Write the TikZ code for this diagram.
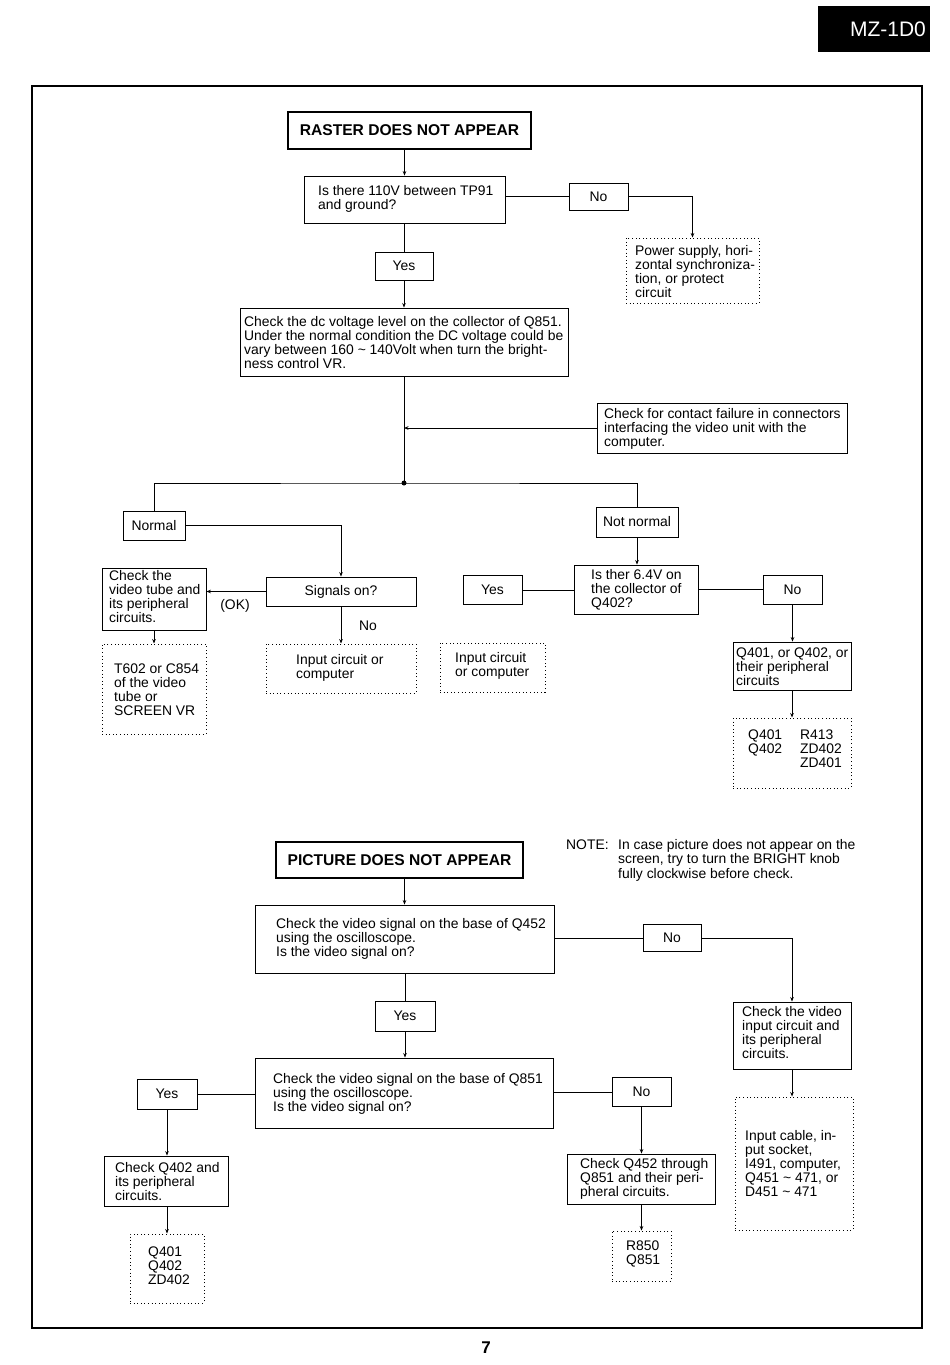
\documentclass[tikz,border=0pt]{standalone}
\usepackage{fontspec}
\setmainfont{Liberation Sans}
\usetikzlibrary{arrows.meta}
\newcommand\ft{\fontsize{13.9}{14}\selectfont}
\newcommand\tld{\textasciitilde}
\begin{document}
\begin{tikzpicture}[x=1pt,y=-1pt,
  box/.style={draw,line width=0.9pt,inner sep=0pt},
  dbox/.style={draw,line width=1pt,dash pattern=on 1pt off 2.6pt,inner sep=0pt},
  tbox/.style={draw,line width=2.4pt,inner sep=0pt,font=\fontsize{15.6}{18}\selectfont\bfseries},
  lbl/.style={box,font=\ft},
  txt/.style={anchor=west,align=left,inner sep=0pt,font=\ft},
  txtb/.style={anchor=west,inner sep=0pt,font=\ft},
  ln/.style={line width=1pt},
  arr/.style={ln,-{Stealth[length=4.5pt,width=3.6pt]}},
]
\useasboundingbox (0,0) rectangle (950,1365);
% header and frame
\node[fill=black,minimum width=112pt,minimum height=46pt,inner sep=0pt] (hdr) at (874,29) {};
\node[text=white,font=\fontsize{21}{23}\selectfont,inner sep=0pt] (hdrt) at (888,29) {MZ-1D0};
\node[draw,line width=1.2pt,minimum width=890pt,minimum height=1242pt,inner sep=0pt] (frame) at (477,707) {};
\node[font=\fontsize{17}{20}\selectfont\bfseries,inner sep=0pt] (pg) at (486,1348) {7};

% ---- chart 1 ----
\node[tbox,minimum width=243pt,minimum height=37pt] (t1) at (409.5,130.5) {RASTER DOES NOT APPEAR};
\node[box,minimum width=201pt,minimum height=47pt] (q1) at (404.5,199.5) {};
\node[txt] (q1t) at (318,199) {Is there 110V between TP91\\and ground?};
\node[lbl,minimum width=59pt,minimum height=27pt] (no1) at (598.5,196.5) {No};
\node[dbox,minimum width=133pt,minimum height=65pt] (ps) at (692.5,270.5) {};
\node[txt] (pst) at (635,272) {Power supply, hori-\\zontal synchroniza-\\tion, or protect\\circuit};
\node[lbl,minimum width=58pt,minimum height=28pt] (yes1) at (404,266) {Yes};
\node[box,minimum width=328pt,minimum height=68pt] (chk) at (404,342) {};
\node[txt] (chkt) at (244,343) {Check the dc voltage level on the collector of Q851.\\Under the normal condition the DC voltage could be\\vary between 160 \tld\ 140Volt when turn the bright-\\ness control VR.};
\node[box,minimum width=250pt,minimum height=50pt] (con) at (722,428) {};
\node[txt] (cont) at (604,429) {Check for contact failure in connectors\\interfacing the video unit with the\\computer.};
\coordinate (j) at (404,483);
\node[lbl,minimum width=62pt,minimum height=29pt] (nor) at (154,525.5) {Normal};
\node[lbl,minimum width=82pt,minimum height=30pt] (nn) at (637,522) {Not normal};
\node[lbl,minimum width=150pt,minimum height=29pt] (sig) at (341,591.5) {Signals on?};
\node[box,minimum width=104pt,minimum height=62pt] (vt) at (154,599) {};
\node[txt] (vtt) at (109,597) {Check the\\video tube and\\its peripheral\\circuits.};
\node[dbox,minimum width=104pt,minimum height=90pt] (t602) at (154,689) {};
\node[txt] (t602t) at (114,689.5) {T602 or C854\\of the video\\tube or\\SCREEN VR};
\node[dbox,minimum width=150pt,minimum height=49pt] (ic1) at (341,668.5) {};
\node[txt] (ic1t) at (296,668) {Input circuit or\\computer};
\node[font=\ft,inner sep=0pt] (ok) at (235,606) {(OK)};
\node[font=\ft,inner sep=0pt] (nol) at (368,626) {No};
\node[box,minimum width=124pt,minimum height=49pt] (q64) at (636,589.5) {};
\node[txt] (q64t) at (591,590) {Is ther 6.4V on\\the collector of\\Q402?};
\node[lbl,minimum width=59pt,minimum height=29pt] (yes2) at (492.5,590) {Yes};
\node[dbox,minimum width=105pt,minimum height=49pt] (ic2) at (492.5,667.5) {};
\node[txt] (ic2t) at (455,666) {Input circuit\\or computer};
\node[lbl,minimum width=59pt,minimum height=29pt] (no2) at (792.5,589.5) {No};
\node[box,minimum width=118pt,minimum height=48pt] (qp) at (792,666) {};
\node[txt] (qpt) at (736,667) {Q401, or Q402, or\\their peripheral\\circuits};
\node[dbox,minimum width=118pt,minimum height=70pt] (ql) at (792,753) {};
\node[txtb] (qlt) at (748,751) {\begin{tabular}{@{}p{52pt}@{}l@{}}Q401&R413\\Q402&ZD402\\&ZD401\end{tabular}};

% connectors chart 1
\draw[arr] (q1.north |- t1.south) -- (q1.north);
\draw[ln] (no1.west -| q1.east) -- (no1.west);
\draw[arr] (no1.east) -| (ps.north);
\draw[ln] (yes1.north |- q1.south) -- (yes1.north);
\draw[arr] (yes1.south) -- (chk.north);
\draw[ln] (chk.south) -- (j);
\draw[arr] (con.west) -- (con.west -| j);
\fill (j) circle (2.5pt);
\draw[ln] (nor.north) |- (j) -| (nn.north);
\draw[arr] (nor.east) -| (sig.north);
\draw[arr] (sig.west) -- (sig.west -| vt.east);
\draw[arr] (vt.south) -- (t602.north);
\draw[arr] (sig.south) -- (ic1.north);
\draw[arr] (nn.south) -- (nn.south |- q64.north);
\draw[ln] (q64.west |- yes2.east) -- (yes2.east);
\draw[ln] (q64.east) -- (q64.east -| no2.west);
\draw[arr] (no2.south) -- (no2.south |- qp.north);
\draw[arr] (qp.south) -- (ql.north);

% ---- chart 2 ----
\node[tbox,minimum width=247pt,minimum height=36pt] (t2) at (399.5,860) {PICTURE DOES NOT APPEAR};
\node[txtb] (note) at (566,861) {\begin{tabular}{@{}p{52pt}@{}l@{}}NOTE:&In case picture does not appear on the\\&screen, try to turn the BRIGHT knob\\&fully clockwise before check.\end{tabular}};
\node[box,minimum width=299pt,minimum height=68pt] (q452) at (404.5,939) {};
\node[txt] (q452t) at (276,939) {Check the video signal on the base of Q452\\using the oscilloscope.\\Is the video signal on?};
\node[lbl,minimum width=58pt,minimum height=27pt] (no3) at (672,938) {No};
\node[box,minimum width=118pt,minimum height=67pt] (vin) at (792,1035.5) {};
\node[txt] (vint) at (742,1033) {Check the video\\input circuit and\\its peripheral\\circuits.};
\node[dbox,minimum width=118pt,minimum height=133pt] (cab) at (794,1163.5) {};
\node[txt] (cabt) at (745,1164) {Input cable, in-\\put socket,\\I491, computer,\\Q451 \tld\ 471, or\\D451 \tld\ 471};
\node[lbl,minimum width=60pt,minimum height=30pt] (yes3) at (405,1016) {Yes};
\node[box,minimum width=298pt,minimum height=70pt] (q851) at (404,1093) {};
\node[txt] (q851t) at (273,1094) {Check the video signal on the base of Q851\\using the oscilloscope.\\Is the video signal on?};
\node[lbl,minimum width=60pt,minimum height=30pt] (yes4) at (167,1094) {Yes};
\node[box,minimum width=124pt,minimum height=50pt] (cq402) at (166,1181) {};
\node[txt] (cq402t) at (115,1182) {Check Q402 and\\its peripheral\\circuits.};
\node[dbox,minimum width=74pt,minimum height=69pt] (ql2) at (167,1268.5) {};
\node[txt] (ql2t) at (148,1266) {Q401\\Q402\\ZD402};
\node[lbl,minimum width=59pt,minimum height=29pt] (no4) at (641.5,1092) {No};
\node[box,minimum width=148pt,minimum height=50pt] (cq452) at (641,1179) {};
\node[txt] (cq452t) at (580,1179) {Check Q452 through\\Q851 and their peri-\\pheral circuits.};
\node[dbox,minimum width=59pt,minimum height=50pt] (rl) at (641.5,1256) {};
\node[txt] (rlt) at (626,1254) {R850\\Q851};

% connectors chart 2
\draw[arr] (q452.north |- t2.south) -- (q452.north);
\draw[ln] (no3.west -| q452.east) -- (no3.west);
\draw[arr] (no3.east) -| (vin.north);
\draw[arr] (vin.south) -- (vin.south |- cab.north);
\draw[ln] (yes3.north |- q452.south) -- (yes3.north);
\draw[arr] (yes3.south) -- (yes3.south |- q851.north);
\draw[ln] (q851.west |- yes4.east) -- (yes4.east);
\draw[arr] (yes4.south) -- (yes4.south |- cq402.north);
\draw[arr] (cq402.south -| yes4.south) -- (ql2.north);
\draw[ln] (q851.east |- no4.west) -- (no4.west);
\draw[arr] (no4.south) -- (no4.south |- cq452.north);
\draw[arr] (cq452.south -| no4.south) -- (rl.north);
\end{tikzpicture}
\end{document}
